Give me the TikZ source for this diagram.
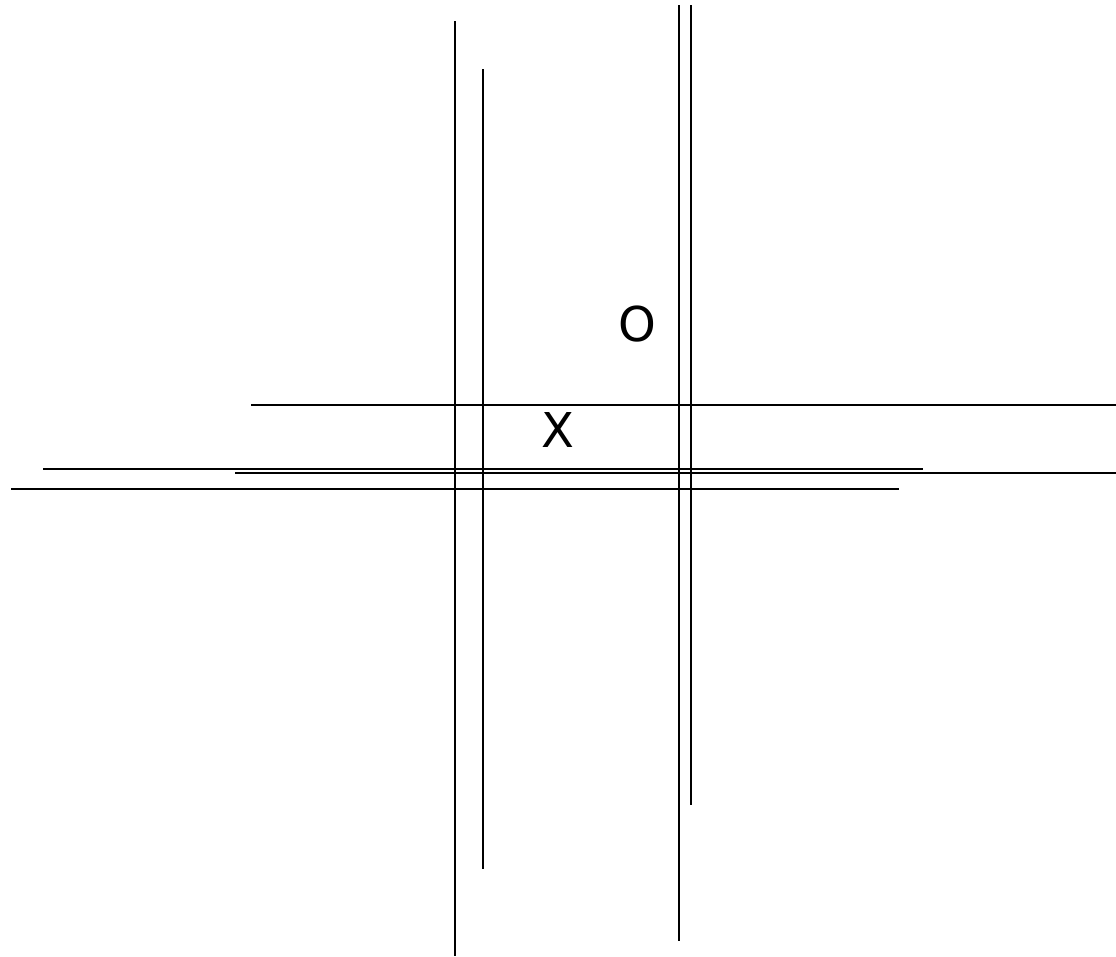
\documentclass[tikz,border=0pt]{standalone}
\usepackage{fontspec}
\setmainfont{DejaVu Sans}
\begin{document}
\begin{tikzpicture}[x=1pt,y=-1pt,
  gridline/.style={line width=2pt,black},
  mark label/.style={inner sep=0pt,anchor=base,font=\fontsize{48}{48}\selectfont}]
\useasboundingbox (0,0) rectangle (1116,956);
% vertical lines
\draw[gridline] (455,21) -- (455,956);
\draw[gridline] (483,69) -- (483,869);
\draw[gridline] (679,5) -- (679,941);
\draw[gridline] (690.5,5) -- (690.5,805);
% horizontal lines
\draw[gridline] (251,405) -- (1116,405);
\draw[gridline] (43,469) -- (923,469);
\draw[gridline] (235,473) -- (1116,473);
\draw[gridline] (11,489) -- (899,489);
% marks
\node[mark label] (o) at (637.5,341.5) {O};
\node[mark label] (x) at (558,447) {X};
\end{tikzpicture}
\end{document}
